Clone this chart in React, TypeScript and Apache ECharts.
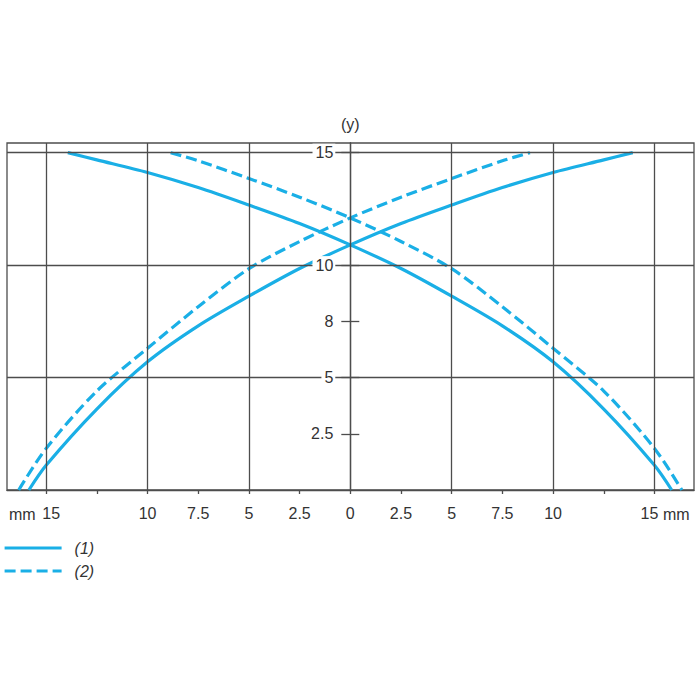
import React, { useEffect, useRef } from "react";
import * as echarts from "echarts";

// Axis ticks and labels
const xTickValues = [-15, -12.5, -10, -7.5, -5, -2.5, 0, 2.5, 5, 7.5, 10, 12.5, 15];
const xLabelValues = [-15, -10, -7.5, -5, -2.5, 0, 2.5, 5, 7.5, 10, 15];
const xLabelTexts = ["15", "10", "7.5", "5", "2.5", "0", "2.5", "5", "7.5", "10", "15"];
const yTickValues = [2.5, 5, 7.5, 10, 15];
const yLabelTexts = ["2.5", "5", "8", "10", "15"];
const xGridValues = [-15, -10, -5, 5, 10, 15];
const yGridValues = [5, 10, 15];
const legendNames = ["(1)", "(2)"];
const unitText = "mm";
const yAxisName = "(y)";

// Curve (1) – solid
const curve1Rising: [number, number][] = [
  [-15.85, 0], [-15, 1.1], [-12.5, 3.6], [-10, 5.7], [-7.5, 7.3], [-5, 8.62],
  [-2.5, 9.85], [0, 10.9], [2.5, 11.85], [5, 12.67], [7.5, 13.45], [10, 14.12],
  [12.5, 14.68], [13.93, 15],
];
const curve1Falling: [number, number][] = [
  [-13.93, 15], [-12.5, 14.68], [-10, 14.12], [-7.5, 13.45], [-5, 12.67],
  [-2.5, 11.85], [0, 10.9], [2.5, 9.85], [5, 8.62], [7.5, 7.3], [10, 5.7],
  [12.5, 3.6], [15, 1.1], [15.85, 0],
];
// Curve (2) – dashed
const curve2Rising: [number, number][] = [
  [-16.35, 0], [-15, 1.85], [-12.5, 4.4], [-10, 6.3], [-7.5, 8.15], [-5, 9.84],
  [-2.5, 11.05], [0, 12.1], [2.5, 13.02], [5, 13.85], [7.5, 14.64], [8.86, 15],
];
const curve2Falling: [number, number][] = [
  [-8.86, 15], [-7.5, 14.64], [-5, 13.85], [-2.5, 13.02], [0, 12.1],
  [2.5, 11.05], [5, 9.84], [7.5, 8.15], [10, 6.3], [12.5, 4.4], [15, 1.85],
  [16.35, 0],
];

const X_MIN = -16.93;
const X_MAX = 16.95;
const Y_MIN = 0;
const Y_MAX = 15.43;

const GRID_LEFT = 7;
const GRID_RIGHT = 6;
const CHART_W = 700;

const CURVE_COLOR = "#1aafe6";
const GRID_COLOR = "#4d4d4d";
const TEXT_COLOR = "#333333";
const FONT = "'Liberation Sans', Arial, sans-serif";

function lookup(values: number[], texts: string[], v: number): string {
  for (let i = 0; i < values.length; i++) {
    if (Math.abs(values[i] - v) < 1e-6) return texts[i];
  }
  return "";
}

export default function App() {
  const ref = useRef<HTMLDivElement>(null);

  useEffect(() => {
    if (!ref.current) return;
    const chart = echarts.init(ref.current, undefined, { renderer: "svg" });

    // distance in px from the grid's left edge to x = 0 (where the y axes sit)
    const plotW = CHART_W - GRID_LEFT - GRID_RIGHT;
    const zeroOffset = (plotW * (0 - X_MIN)) / (X_MAX - X_MIN);

    const curveSeries = (name: string, data: [number, number][], dashed: boolean) => ({
      type: "line",
      name,
      data,
      xAxisIndex: 0,
      yAxisIndex: 0,
      showSymbol: false,
      symbol: "none",
      smooth: 0.3,
      z: 3,
      lineStyle: {
        color: CURVE_COLOR,
        width: 3.2,
        type: dashed ? [11, 5] : "solid",
      },
      itemStyle: { color: CURVE_COLOR },
    });

    const labelRich = {
      l: { fontSize: 16, color: TEXT_COLOR, fontFamily: FONT, padding: [0, 0, 0, 10] },
      r: { fontSize: 16, color: TEXT_COLOR, fontFamily: FONT, padding: [0, 10, 0, 0] },
    };

    const option: any = {
      animation: false,
      backgroundColor: "#ffffff",
      textStyle: { fontFamily: FONT },
      grid: {
        left: GRID_LEFT,
        right: GRID_RIGHT,
        top: 143,
        bottom: 210,
        containLabel: false,
        outerBoundsMode: "none",
        show: true,
        borderColor: GRID_COLOR,
        borderWidth: 1.3,
        backgroundColor: "transparent",
      },
      legend: {
        data: legendNames,
        orient: "vertical",
        left: 3,
        top: 540,
        padding: 0,
        itemWidth: 57,
        itemHeight: 18,
        itemGap: 7,
        selectedMode: false,
        itemStyle: { opacity: 0, color: "transparent", borderWidth: 0 },
        lineStyle: { width: 3.2 },
        textStyle: {
          color: TEXT_COLOR,
          fontSize: 16,
          fontStyle: "italic",
          fontFamily: FONT,
          padding: [0, 0, 0, 8],
        },
      },
      xAxis: [
        {
          type: "value",
          min: X_MIN,
          max: X_MAX,
          position: "bottom",
          axisLine: { show: true, onZero: true, lineStyle: { color: GRID_COLOR, width: 1.3 } },
          axisTick: {
            show: true,
            customValues: xTickValues,
            length: 4,
            lineStyle: { color: GRID_COLOR, width: 1.3 },
          },
          axisLabel: {
            show: true,
            customValues: xLabelValues,
            hideOverlap: false,
            formatter: (v: number) => {
              const t = lookup(xLabelValues, xLabelTexts, v);
              if (Math.abs(v - xLabelValues[0]) < 1e-6) return `{l|${t}}`;
              if (Math.abs(v - xLabelValues[xLabelValues.length - 1]) < 1e-6) return `{r|${t}}`;
              return t;
            },
            rich: labelRich,
            color: TEXT_COLOR,
            fontSize: 16,
            fontFamily: FONT,
            margin: 15,
          },
          splitLine: { show: false },
        },
      ],
      yAxis: [
        {
          type: "value",
          min: Y_MIN,
          max: Y_MAX,
          z: 5,
          position: "left",
          name: yAxisName,
          nameLocation: "end",
          nameGap: 11,
          nameTextStyle: { color: TEXT_COLOR, fontSize: 16, fontFamily: FONT },
          axisLine: { show: true, onZero: false, lineStyle: { color: GRID_COLOR, width: 1.3 } },
          offset: -zeroOffset,
          axisTick: {
            show: true,
            customValues: yTickValues,
            length: 9,
            inside: false,
            lineStyle: { color: GRID_COLOR, width: 1.3 },
          },
          axisLabel: {
            show: true,
            customValues: yTickValues,
            hideOverlap: false,
            formatter: (v: number) => lookup(yTickValues, yLabelTexts, v),
            color: TEXT_COLOR,
            fontSize: 16,
            fontFamily: FONT,
            margin: 15,
            backgroundColor: "#ffffff",
            padding: [1, 2, 1, 3],
          },
          splitLine: { show: false },
        },
        {
          type: "value",
          min: Y_MIN,
          max: Y_MAX,
          z: 5,
          position: "left",
          offset: -zeroOffset,
          axisLine: { show: true, onZero: false, lineStyle: { color: GRID_COLOR, width: 1.3 } },
          axisTick: {
            show: true,
            customValues: yTickValues,
            length: 9,
            inside: true,
            lineStyle: { color: GRID_COLOR, width: 1.3 },
          },
          axisLabel: { show: false },
          splitLine: { show: false },
        },
      ],
      graphic: [
        {
          type: "text",
          left: 9,
          top: 506,
          style: { text: unitText, fill: TEXT_COLOR, font: `16px ${FONT}` },
        },
        {
          type: "text",
          left: 663,
          top: 506,
          style: { text: unitText, fill: TEXT_COLOR, font: `16px ${FONT}` },
        },
      ],
      series: [
        {
          type: "line",
          name: "grid",
          data: [],
          xAxisIndex: 0,
          yAxisIndex: 0,
          z: 1,
          silent: true,
          markLine: {
            silent: true,
            symbol: ["none", "none"],
            label: { show: false },
            lineStyle: { color: GRID_COLOR, width: 1.3, type: "solid" },
            data: [
              ...xGridValues.map((v) => ({ xAxis: v })),
              ...yGridValues.map((v) => ({ yAxis: v })),
            ],
          },
        },
        curveSeries(legendNames[0], curve1Rising, false),
        curveSeries(legendNames[0], curve1Falling, false),
        curveSeries(legendNames[1], curve2Rising, true),
        curveSeries(legendNames[1], curve2Falling, true),
      ],
    };

    chart.setOption(option);
    return () => chart.dispose();
  }, []);

  return (
    <div
      ref={ref}
      style={{ position: "fixed", left: 0, top: 0, width: 700, height: 700, background: "#fff" }}
    />
  );
}
